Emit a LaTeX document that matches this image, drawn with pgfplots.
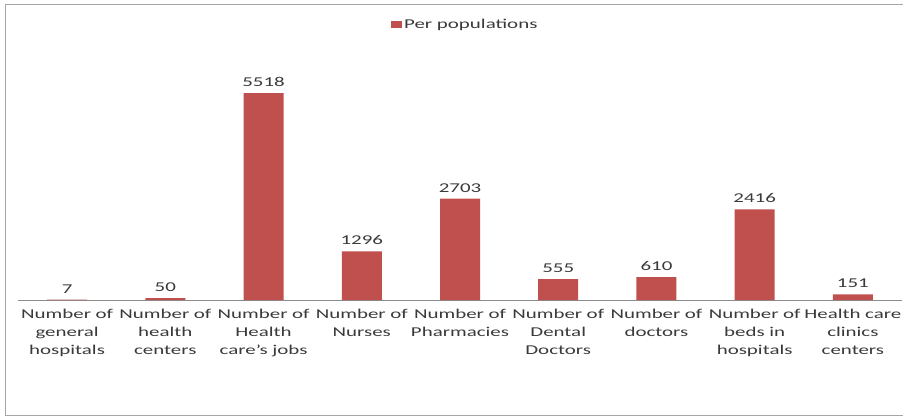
\documentclass[border=0pt]{standalone}
\usepackage{fontspec}
\setmainfont{Carlito}[FakeStretch=1.55]
\usepackage{pgfplots}
\pgfplotsset{compat=1.18}
\definecolor{barred}{HTML}{C0504D}
\definecolor{txt}{HTML}{3A3A3A}
\definecolor{axgray}{HTML}{8C8C8C}
\definecolor{framegray}{HTML}{A6A6A6}
\begin{document}
\begin{tikzpicture}
\begin{axis}[
  at={(18bp,118bp)}, anchor=south west,
  scale only axis,
  width=884bp, height=270bp,
  xmin=-0.5, xmax=8.5,
  ymin=0, ymax=7200,
  ybar, bar width=40bp,
  axis y line=none,
  axis x line*=bottom,
  x axis line style={axgray, line width=0.8pt, -},
  xtick=data,
  major tick length=0pt,
  xticklabels={{Number of\\general\\hospitals},{Number of\\health\\centers},{Number of\\Health\\care's jobs},{Number of\\Nurses},{Number of\\Pharmacies},{Number of\\Dental\\Doctors},{Number of\\doctors},{Number of\\beds in\\hospitals},{Health care\\clinics\\centers}},
  xticklabel style={text width=100bp, align=center, font=\fontsize{13.5bp}{18bp}\selectfont, text=txt, inner sep=0pt, yshift=-9bp},
  nodes near coords,
  nodes near coords style={font=\fontsize{13.5bp}{16bp}\selectfont, text=txt, yshift=3bp},
  /pgf/number format/assume math mode=true,
  /pgf/number format/.cd, fixed, 1000 sep={}, /pgfplots/.cd,
  legend style={at={(0.506,1.02)}, anchor=center, draw=none, fill=none, font=\fontsize{13.5bp}{16bp}\selectfont, text=txt, inner sep=0pt},
  legend image code/.code={\fill[barred] (0bp,-3.5bp) rectangle (11bp,3.5bp);},
  clip=false,
]
\addplot[fill=barred, draw=none] coordinates {(0,7) (1,50) (2,5518) (3,1296) (4,2703) (5,555) (6,610) (7,2416) (8,151)};
\addlegendentry{Per populations}
\end{axis}
\draw[framegray, line width=0.8pt] (5bp,3bp) rectangle (910bp,414bp);
\pgfresetboundingbox
\path[use as bounding box] (0,0) rectangle (903bp,418bp);
\end{tikzpicture}
\end{document}
